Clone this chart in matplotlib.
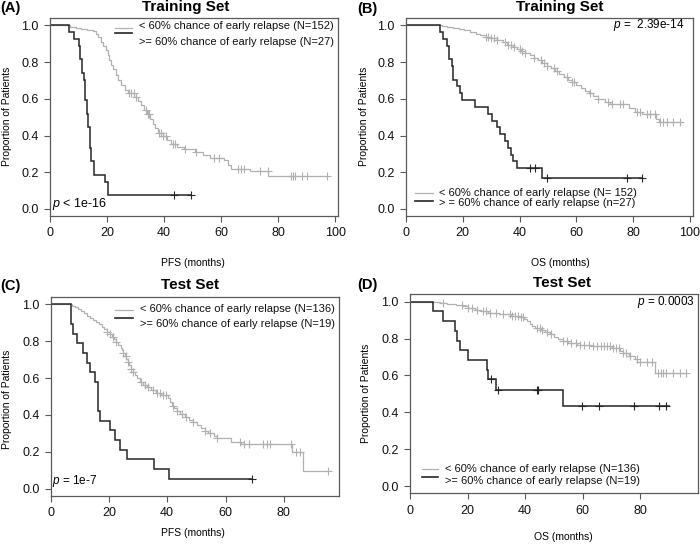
import numpy as np
import matplotlib
matplotlib.use("Agg")
import matplotlib.pyplot as plt
from matplotlib.lines import Line2D

plt.rcParams['font.family'] = ['Liberation Sans', 'DejaVu Sans']
plt.rcParams['mathtext.fontset'] = 'custom'
plt.rcParams['mathtext.it'] = 'Liberation Sans:italic'
plt.rcParams['mathtext.rm'] = 'Liberation Sans'

W, H = 700, 548
GRAY = '#b0b0b0'
DARK = '#262626'
SPINE = '#5a5a5a'

# ---- (A) Training set, PFS ----
a_low_t = [0, 7, 9, 11, 13, 15, 16, 17, 17.8, 18.5, 19.5, 20.3, 20.8, 21.5, 22.2, 23, 24, 25,
           26.3, 27.5, 29.5, 31, 32, 33, 34, 35, 36, 37, 38, 39.5, 41, 42.5, 44.5, 47, 51,
           53.5, 56, 61, 62.5, 63.5, 70, 76.5]
a_low_s = [1.0, .993, .987, .98, .974, .967, .955, .935, .91, .885, .865, .84, .81, .785, .76,
           .73, .70, .675, .65, .63, .61, .59, .565, .54, .515, .49, .465, .44, .415, .395,
           .375, .355, .34, .325, .31, .295, .28, .265, .24, .215, .205, .177]
a_low_end = 97
a_low_cens = [27.6, 28.5, 29.4, 30, 33.5, 34.2, 34.7, 38.2, 39, 39.8, 40.6, 43, 44, 47.5, 51.2,
              57.6, 59.4, 66, 67, 68, 73.5, 76.3, 84.7, 85.3, 85.9, 88.3, 90, 97]
a_high_t = [0, 6.7, 8.5, 10.0, 10.5, 11.3, 11.8, 12.3, 13.0, 13.5, 14.0, 14.5, 15.3, 19.3, 20.5]
a_high_n = [27, 26, 25, 24, 22, 20, 19, 16, 14, 12, 9, 7, 5, 4, 2]
a_high_end = 49.5
a_high_cens = [43.5, 49.5]

# ---- (B) Training set, OS ----
b_low_t = [0, 12.5, 14.5, 16.5, 18.5, 20.5, 22.5, 24.5, 26, 28, 30, 32, 34, 35.5, 37.5, 39,
           40.5, 42, 43.5, 45, 46.5, 48, 49.5, 51, 52.5, 54, 55.5, 57, 58.5, 60, 61.5, 63,
           64.5, 66, 67.5, 70, 72, 78.5, 80.5, 83, 88, 89]
b_low_s = [1.0, .995, .99, .985, .98, .972, .965, .955, .947, .938, .93, .92, .908, .895, .883,
           .872, .86, .848, .836, .823, .81, .795, .78, .765, .75, .735, .72, .705, .69, .675,
           .66, .645, .63, .615, .60, .585, .57, .55, .53, .515, .49, .475]
b_low_end = 97
b_low_cens = [28, 29, 30, 31, 32, 35, 36, 37, 38, 40, 41, 42, 45, 47.5, 48.5, 49.5, 52, 53,
              56.6, 58.5, 59.3, 64.8, 67.7, 71.3, 72.4, 75.4, 76.5, 81.2, 82.4, 84.7, 85.9,
              87.7, 89.4, 90.6, 91.8, 94.1, 96.5]
b_high_t = [0, 12.0, 13.2, 14.3, 15.2, 16.1, 16.7, 17.8, 19.0, 19.6, 24.3, 29.0, 30.2, 31.9,
            33.1, 34.9, 36.0, 36.8, 37.8, 39.0, 47.8]
b_high_s = [1.0, .963, .926, .889, .815, .778, .704, .667, .630, .593, .556, .519, .481, .444,
            .407, .370, .333, .296, .259, .222, .167]
b_high_end = 83
b_high_cens = [43.5, 45.5, 49.5, 77.9, 83]

# ---- (C) Test set, PFS ----
c_low_t = [0, 7.5, 8.5, 9.5, 10.5, 11.5, 12.5, 13.5, 14.5, 15.5, 16.5, 17.5, 18.5, 19.5, 20.3,
           21, 21.8, 22.5, 23.3, 24, 24.5, 25, 25.5, 26, 26.5, 27, 27.5, 28.2, 29, 29.8, 30.7,
           31.7, 33, 34.5, 36, 38, 40.3, 40.8, 41.5, 42.5, 43.5, 44.5, 46, 47.5, 49, 50.2,
           51.5, 53, 54, 56, 57, 62, 65.3, 82.7, 86.5]
c_low_s = [1.0, .993, .985, .975, .963, .952, .94, .928, .917, .905, .893, .88, .866, .852, .838,
           .824, .81, .795, .78, .765, .75, .735, .72, .705, .69, .67, .65, .632, .615, .598,
           .58, .565, .55, .535, .52, .51, .49, .47, .45, .435, .42, .405, .39, .375, .36,
           .345, .33, .315, .30, .285, .272, .255, .243, .20, .093]
c_low_end = 95
c_low_cens = [19.5, 20.5, 21.5, 22.5, 25, 25.8, 26.5, 27.5, 28.4, 31, 32.5, 33.5, 35, 36.5,
              37.5, 38.5, 39.5, 42, 43.5, 45, 46.5, 49, 53, 54.7, 57, 65, 66.5, 68, 73, 74.1,
              75.3, 82.6, 84.3, 85.5, 95]
c_high_t = [0, 6.9, 7.6, 9.0, 11.3, 12.6, 13.6, 15.3, 16.2, 17.1, 20.4, 22.1, 23.8, 26.3, 35.5, 40.6]
c_high_n = [19, 17, 16, 15, 14, 13, 12, 11, 8, 7, 6, 5, 4, 3, 2, 1]
c_high_end = 69
c_high_cens = [69]

# ---- (D) Test set, OS ----
d_low_t = [0, 10.5, 13, 16, 18.5, 20, 22.5, 24.5, 27, 31, 35, 38, 39.5, 40.5, 41.5, 42.5, 43.5,
           45.5, 47, 48.5, 50, 51.5, 53, 55, 58, 63, 70, 73, 74, 76, 78, 78.8, 85]
d_low_s = [1.0, .995, .99, .984, .975, .966, .957, .948, .94, .932, .924, .916, .905, .893, .88,
           .868, .856, .845, .835, .823, .811, .799, .787, .775, .765, .757, .748, .735, .72,
           .705, .69, .675, .615]
d_low_end = 96
d_low_cens = [11.6, 18, 20.3, 21.4, 23.1, 25.5, 26.5, 27.8, 30, 32.4, 34.7, 35.5, 36.5, 37.5,
              38.5, 39.4, 44, 45, 46, 47.5, 49, 53, 54.4, 56, 57.5, 59, 60.5, 62, 63.5, 65,
              66.5, 67.5, 68.5, 69.5, 70.5, 71.5, 72.5, 74, 75, 76.5, 78.7, 79.9, 82.2, 84,
              86.2, 87, 88, 89, 91.4, 93.8, 96]
d_high_t = [0, 8.1, 11.6, 15.6, 16.2, 17.4, 20.3, 26.6, 27.2, 29.9, 53.2]
d_high_s = [1.0, .947, .895, .842, .789, .737, .684, .632, .579, .521, .434]
d_high_end = 90
d_high_cens = [28.3, 30.7, 44, 44.4, 59.6, 65.7, 77.8, 86.5, 88.8]


def px_axes(fig, l, t, r, b):
    return fig.add_axes([l / W, 1 - b / H, (r - l) / W, (b - t) / H])


def ftext(fig, x, y, s, **kw):
    fig.text(x / W, 1 - y / H, s, **kw)


def km(ax, times, surv, end, cens, color, lw):
    times = np.asarray(times, float)
    surv = np.asarray(surv, float)
    ax.step(np.append(times, end), np.append(surv, surv[-1]), where='post',
            color=color, lw=lw, solid_joinstyle='miter')
    idx = np.searchsorted(times, cens, side='right') - 1
    ax.plot(cens, surv[idx], ls='none', marker='+', ms=5.5, mew=0.8, color=color)


def setup(ax, xmax, xticks):
    ax.set_xlim(0, xmax * 1.04)
    ax.set_ylim(-0.04, 1.04)
    ax.set_xticks(xticks)
    ax.set_yticks([0, 0.2, 0.4, 0.6, 0.8, 1.0])
    ax.set_yticklabels(['0.0', '0.2', '0.4', '0.6', '0.8', '1.0'])
    ax.tick_params(direction='out', length=4.5, width=0.8, color=SPINE, labelsize=9,
                   pad=3.5, labelcolor='#111111')
    for sp in ax.spines.values():
        sp.set_color(SPINE)
        sp.set_linewidth(0.9)


def legend(fig, x0, x1, xt, ly, ty, labels):
    for (yl, yt, lab, col, lw) in zip(ly, ty, labels, [GRAY, DARK], [0.9, 1.2]):
        fig.add_artist(Line2D([x0 / W, x1 / W], [1 - yl / H, 1 - yl / H], color=col, lw=lw))
        ftext(fig, xt, yt, lab, fontsize=8, ha='left', va='center', color='#111111')


fig = plt.figure(figsize=(7, 5.48), dpi=100)

# panel A
ax = px_axes(fig, 50, 18, 337.6, 216.3)
km(ax, a_low_t, a_low_s, a_low_end, a_low_cens, GRAY, 0.9)
km(ax, a_high_t, np.array(a_high_n) / 27, a_high_end, a_high_cens, DARK, 1.1)
setup(ax, a_low_end, [0, 20, 40, 60, 80, 100])
ftext(fig, 52, 204, r'$p$ < 1e-16', fontsize=9, ha='left', va='center')
legend(fig, 115, 132, 139, [28.3, 33.3], [26, 41.7],
       ['< 60% chance of early relapse (N=152)', '>= 60% chance of early relapse (N=27)'])
ftext(fig, 186, 7, 'Training Set', fontsize=11, fontweight='bold', ha='center', va='center')
ftext(fig, 0, 8, '(A)', fontsize=10.5, fontweight='bold', ha='left', va='center')
ftext(fig, 193, 263, 'PFS (months)', fontsize=7.5, ha='center', va='center')
ftext(fig, 7.5, 116, 'Proportion of Patients', fontsize=7.5, ha='center', va='center', rotation=90)

# panel B
ax = px_axes(fig, 406, 18, 692.5, 216.3)
km(ax, b_low_t, b_low_s, b_low_end, b_low_cens, GRAY, 0.9)
km(ax, b_high_t, b_high_s, b_high_end, b_high_cens, DARK, 1.1)
setup(ax, b_low_end, [0, 20, 40, 60, 80, 100])
ftext(fig, 613, 25, r'$p$ =  2.39e-14', fontsize=8.5, ha='left', va='center')
legend(fig, 415, 433, 439, [192.7, 200.7], [192.7, 203.3],
       ['< 60% chance of early relapse (N= 152)', '> = 60% chance of early relapse (n=27)'])
ftext(fig, 560, 7, 'Training Set', fontsize=11, fontweight='bold', ha='center', va='center')
ftext(fig, 357, 9, '(B)', fontsize=10.5, fontweight='bold', ha='left', va='center')
ftext(fig, 560, 263, 'OS (months)', fontsize=7.5, ha='center', va='center')
ftext(fig, 364, 116, 'Proportion of Patients', fontsize=7.5, ha='center', va='center', rotation=90)

# panel C
ax = px_axes(fig, 50.5, 297.1, 338.7, 495.9)
km(ax, c_low_t, c_low_s, c_low_end, c_low_cens, GRAY, 0.9)
km(ax, c_high_t, np.array(c_high_n) / 19, c_high_end, c_high_cens, DARK, 1.1)
setup(ax, c_low_end, [0, 20, 40, 60, 80])
ftext(fig, 52, 481, r'$p$ = 1e-7', fontsize=8.5, ha='left', va='center')
legend(fig, 115, 133, 139.5, [310, 317.7], [309.3, 324],
       ['< 60% chance of early relapse (N=136)', '>= 60% chance of early relapse (N=19)'])
ftext(fig, 190, 285, 'Test Set', fontsize=11, fontweight='bold', ha='center', va='center')
ftext(fig, 0, 286, '(C)', fontsize=10.5, fontweight='bold', ha='left', va='center')
ftext(fig, 193, 533, 'PFS (months)', fontsize=7.5, ha='center', va='center')
ftext(fig, 7, 399, 'Proportion of Patients', fontsize=7.5, ha='center', va='center', rotation=90)

# panel D
ax = px_axes(fig, 410, 294.3, 697.5, 493.4)
km(ax, d_low_t, d_low_s, d_low_end, d_low_cens, GRAY, 0.9)
km(ax, d_high_t, d_high_s, d_high_end, d_high_cens, DARK, 1.1)
setup(ax, d_low_end, [0, 20, 40, 60, 80])
ftext(fig, 695, 301.7, r'$p$ = 0.0003', fontsize=8.5, ha='right', va='center')
legend(fig, 421.7, 438.3, 445, [469, 477], [469, 480.7],
       ['< 60% chance of early relapse (N=136)', '>= 60% chance of early relapse (N=19)'])
ftext(fig, 562, 283, 'Test Set', fontsize=11, fontweight='bold', ha='center', va='center')
ftext(fig, 357, 285, '(D)', fontsize=10.5, fontweight='bold', ha='left', va='center')
ftext(fig, 563, 537, 'OS (months)', fontsize=7.5, ha='center', va='center')
ftext(fig, 366, 393, 'Proportion of Patients', fontsize=7.5, ha='center', va='center', rotation=90)

fig.savefig('out.png', dpi=100)
